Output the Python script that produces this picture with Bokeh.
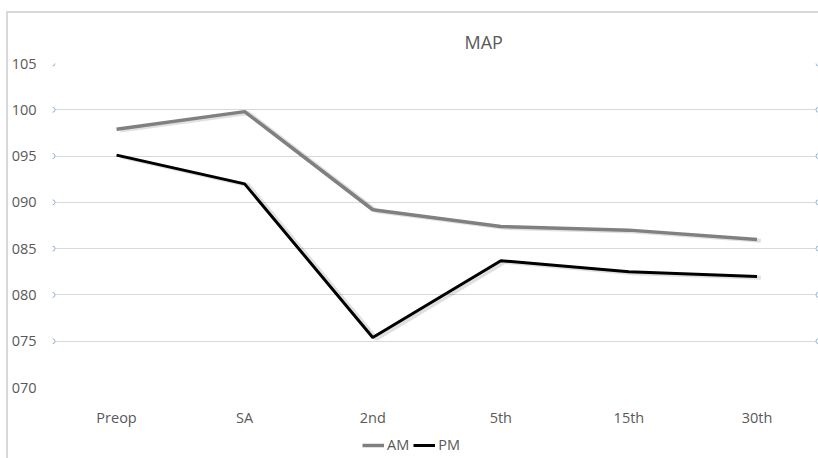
from bokeh.plotting import figure
from bokeh.layouts import column
from bokeh.models import Range1d, FixedTicker, Legend, LegendItem
from bokeh.embed import file_html
from bokeh.resources import INLINE

categories = ["Preop", "SA", "2nd", "5th", "15th", "30th"]
am = [97.9, 99.8, 89.2, 87.4, 87.0, 86.0]
pm = [95.1, 92.0, 75.4, 83.7, 82.5, 82.0]
y_ticks = [70, 75, 80, 85, 90, 95, 100, 105]
y_labels = ["070", "075", "080", "085", "090", "095", "100", "105"]
series_names = ["AM", "PM"]
title_text = "MAP"

FONT = "Open Sans"
TXT = "#595959"
AM_COLOR = "#808080"
PM_COLOR = "#000000"

x = list(range(len(categories)))
XMAX = 5.48

p = figure(width=810, height=417, output_backend="svg", toolbar_location=None,
           x_range=Range1d(-0.5, XMAX), y_range=Range1d(70, 105),
           min_border_left=44, min_border_right=0, min_border_top=50, min_border_bottom=43)

p.title.text = title_text
p.title.text_font = FONT
p.title.text_font_size = "18px"
p.title.text_font_style = "normal"
p.title.text_color = TXT
p.title.align = "left"
p.title.offset = 412
p.title.standoff = 19

p.outline_line_color = None
p.background_fill_color = "white"
p.border_fill_color = "white"

p.xgrid.grid_line_color = None
p.ygrid.grid_line_color = "#d9d9d9"
p.ygrid.grid_line_width = 1

p.xaxis.ticker = FixedTicker(ticks=x)
p.xaxis.major_label_overrides = {i: c for i, c in zip(x, categories)}
p.yaxis.ticker = FixedTicker(ticks=y_ticks)
p.yaxis.major_label_overrides = {t: l for t, l in zip(y_ticks, y_labels)}
for ax in (p.xaxis, p.yaxis):
    ax.axis_line_color = None
    ax.major_tick_line_color = None
    ax.minor_tick_line_color = None
    ax.major_label_text_font = FONT
    ax.major_label_text_font_size = "14.5px"
    ax.major_label_text_color = TXT
p.yaxis.major_label_standoff = 10
p.xaxis.major_label_standoff = 14

# tick circles at both ends of the gridlines (excluding 70)
circ_y = [t for t in y_ticks if t != 70]
p.scatter([-0.5] * len(circ_y), circ_y, size=5, marker="circle",
          fill_color="white", line_color="#8fb4d9", line_width=1)
p.scatter([XMAX] * len(circ_y), circ_y, size=5, marker="circle",
          fill_color="white", line_color="#8fb4d9", line_width=1)

# faint shadows
p.line([v + 0.03 for v in x], [v - 0.15 for v in am], line_color="#000000", line_alpha=0.12, line_width=4)
p.line([v + 0.03 for v in x], [v - 0.15 for v in pm], line_color="#000000", line_alpha=0.12, line_width=4)
p.line(x, am, line_color=AM_COLOR, line_width=3.5)
p.line(x, pm, line_color=PM_COLOR, line_width=3)

# legend strip below the chart
lg = figure(width=810, height=28, output_backend="svg", toolbar_location=None,
            x_range=Range1d(-0.5, XMAX), y_range=Range1d(70, 105),
            x_axis_type=None, y_axis_type=None,
            min_border_left=0, min_border_right=0, min_border_top=0, min_border_bottom=0)
lg.outline_line_color = None
lg.xgrid.grid_line_color = None
lg.ygrid.grid_line_color = None
l_am = lg.line(x, am, line_color=AM_COLOR, line_width=3.5, visible=False)
l_pm = lg.line(x, pm, line_color=PM_COLOR, line_width=3, visible=False)
legend = Legend(items=[LegendItem(label=series_names[0], renderers=[l_am]),
                       LegendItem(label=series_names[1], renderers=[l_pm])],
                orientation="horizontal", location=(310, 4),
                label_text_font=FONT, label_text_font_size="14.5px", label_text_color=TXT,
                glyph_width=22, glyph_height=12, label_standoff=3, spacing=4,
                padding=0, margin=0, border_line_color=None, background_fill_alpha=0)
lg.add_layout(legend, "center")

layout = column(p, lg, spacing=0)
layout.styles = {"border-top": "2px solid #d9d9d9", "border-left": "2px solid #d9d9d9",
                 "margin-left": "6px", "margin-top": "11px"}
open("out.html", "w").write(file_html(layout, INLINE))
